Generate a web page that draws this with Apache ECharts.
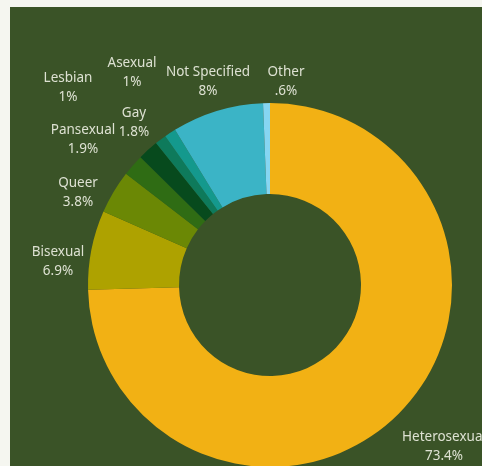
<!DOCTYPE html>
<html>
<head>
<meta charset="utf-8">
<script src="https://cdn.jsdelivr.net/npm/echarts@6/dist/echarts.min.js"></script>
<style>
  html, body { margin: 0; padding: 0; background: #f5f6f0; }
  #chart { width: 482px; height: 466px; }
</style>
</head>
<body>
<div id="chart"></div>
<script>
// Survey responses by sexual orientation (percent)
const categories = ['Heterosexual', 'Bisexual', 'Queer', 'Pansexual', 'Gay', 'Lesbian', 'Asexual', 'Not Specified', 'Other'];
const percents   = [73.4, 6.9, 3.8, 1.9, 1.8, 1, 1, 8, 0.6];
const sliceColors = ['#f2b114', '#aea200', '#6b8805', '#2f6c14', '#074a1d', '#0e7a5b', '#14998d', '#3bb4c6', '#86d6f2'];

// where each two-line label sits (centre of the text block)
const labelSpots = {
  'Heterosexual': [444, 447],
  'Bisexual': [58, 262],
  'Queer': [78, 193],
  'Pansexual': [83, 140],
  'Gay': [134, 123],
  'Lesbian': [68, 88],
  'Asexual': [132, 73],
  'Not Specified': [208, 82],
  'Other': [286, 82]
};

const fmtPct = v => String(v).replace(/^0\./, '.') + '%';

const chart = echarts.init(document.getElementById('chart'), null, { renderer: 'canvas' });
chart.setOption({
  backgroundColor: '#f5f6f0',
  animation: false,
  graphic: [{
    type: 'rect',
    z: -10,
    shape: { x: 10, y: 7, width: 472, height: 459 },
    style: { fill: '#3a5327' }
  }],
  series: [{
    type: 'pie',
    center: [270, 285],
    radius: [91, 182],
    startAngle: 90,
    clockwise: true,
    avoidLabelOverlap: false,
    itemStyle: { borderWidth: 0 },
    label: {
      show: true,
      position: 'outside',
      color: '#dde1d2',
      fontFamily: 'Noto Sans',
      fontSize: 13.5,
      lineHeight: 19,
      align: 'center',
      formatter: p => p.name + '\n' + fmtPct(p.value)
    },
    labelLine: { show: false },
    labelLayout: p => {
      const spot = labelSpots[categories[p.dataIndex]];
      return { x: spot[0], y: spot[1], align: 'center', verticalAlign: 'middle' };
    },
    data: categories.map((name, i) => ({
      name: name,
      value: percents[i],
      itemStyle: { color: sliceColors[i] }
    }))
  }]
});
</script>
</body>
</html>
